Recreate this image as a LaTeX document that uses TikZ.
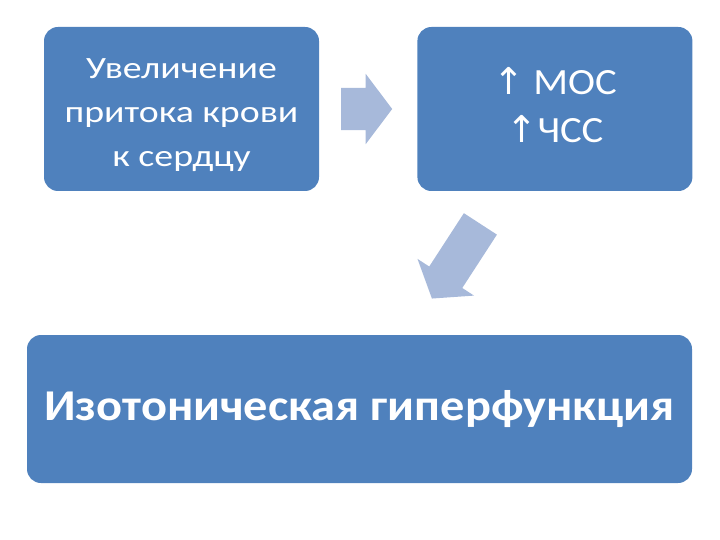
\documentclass[tikz,border=0pt]{standalone}
\usepackage{fontspec}
\setmainfont{Carlito}
\newfontfamily\widefont[FakeStretch=1.22]{Carlito}
\newfontfamily\midfont[FakeStretch=1.1]{Carlito}
\newfontfamily\arrowfont{DejaVu Sans}
\usetikzlibrary{shapes.arrows,positioning,calc}
\definecolor{boxblue}{RGB}{79,129,189}
\definecolor{arrowgray}{RGB}{167,185,218}

\begin{document}
\begin{tikzpicture}[
    x=1pt, y=-1pt,
    block/.style={fill=boxblue, rounded corners=14pt, text=white, align=center, inner sep=0pt, minimum width=275pt, minimum height=164pt},
    flow/.style={single arrow, fill=arrowgray, inner xsep=0pt, inner ysep=21pt, minimum height=51pt, single arrow head extend=14pt, single arrow tip angle=106},
]
    \useasboundingbox (0,0) rectangle (720,540);

    \node[block, font=\widefont\fontsize{31}{44}\selectfont] (inflow) at (181.5,109) {\rule{0pt}{32pt}Увеличение\\притока крови\\к сердцу};
    \node[block, right=98pt of inflow, font=\midfont\fontsize{37}{48}\selectfont] (mos) {{\arrowfont↑} МОС\\{\arrowfont↑}ЧСС\rule[-8pt]{0pt}{8pt}};
    \node[block, minimum width=665pt, minimum height=148pt, font=\midfont\fontsize{44}{50}\selectfont\bfseries] (hyper) at (359.5,409) {Изотоническая гиперфункция};

    \node[flow] (step1) at ($(inflow.east)!0.5!(mos.west)+(-9.5,0)$) {};
    \node[flow, inner ysep=19.5pt, minimum height=89pt, rotate=237] (step2) at ($(mos.south)!0.5!(hyper.north)+(3,-8)$) {};
\end{tikzpicture}
\end{document}
